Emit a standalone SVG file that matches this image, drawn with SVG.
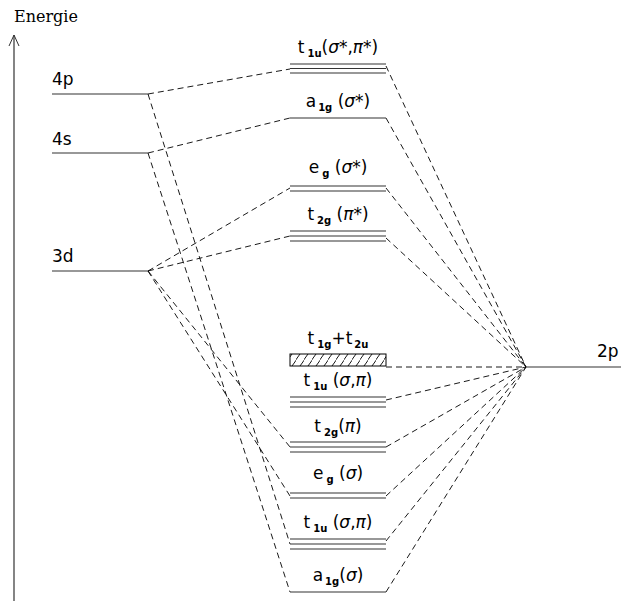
<svg xmlns="http://www.w3.org/2000/svg" width="621" height="601" viewBox="0 0 621 601">
<style>
.lv{stroke:#333;stroke-width:1.2;fill:none}
.dl{stroke:#000;stroke-width:0.9;stroke-dasharray:6,4;fill:none}
.t{font-family:"DejaVu Sans","Liberation Sans",sans-serif;font-size:17px;fill:#000}
.c{text-anchor:middle}
.s{font-size:10px;font-weight:bold}
.g{font-style:italic}
.e{font-family:"DejaVu Serif","Liberation Serif",serif;font-size:16px;fill:#000}
</style>
<defs>
<pattern id="hatch" width="8" height="12" patternUnits="userSpaceOnUse">
<line x1="-1" y1="13" x2="9" y2="-1" stroke="#000" stroke-width="0.9"/>
</pattern>
</defs>
<g id="axis">
<line x1="14" y1="601" x2="14" y2="35" stroke="#333" stroke-width="1.2"/>
<polyline points="9,46 14,35 19,46" fill="none" stroke="#333" stroke-width="1"/>
<text class="e" x="14" y="22">Energie</text>
</g>
<g id="connectors">
<line class="dl" x1="148" y1="94" x2="290" y2="69"/>
<line class="dl" x1="148" y1="94" x2="290" y2="544"/>
<line class="dl" x1="148" y1="153" x2="290" y2="118"/>
<line class="dl" x1="148" y1="153" x2="290" y2="592"/>
<line class="dl" x1="148" y1="271" x2="290" y2="188"/>
<line class="dl" x1="148" y1="271" x2="290" y2="236"/>
<line class="dl" x1="148" y1="271" x2="290" y2="447"/>
<line class="dl" x1="148" y1="271" x2="290" y2="496"/>
<line class="dl" x1="386" y1="66" x2="526" y2="367"/>
<line class="dl" x1="386" y1="118" x2="526" y2="367"/>
<line class="dl" x1="386" y1="188" x2="526" y2="367"/>
<line class="dl" x1="386" y1="238" x2="526" y2="367"/>
<line class="dl" x1="386" y1="367" x2="526" y2="367"/>
<line class="dl" x1="386" y1="400" x2="526" y2="367"/>
<line class="dl" x1="386" y1="447" x2="526" y2="367"/>
<line class="dl" x1="386" y1="496" x2="526" y2="367"/>
<line class="dl" x1="386" y1="541" x2="526" y2="367"/>
<line class="dl" x1="386" y1="592" x2="526" y2="367"/>
</g>
<g id="ao-4p">
<line class="lv" x1="52" y1="94" x2="148" y2="94"/>
<text class="t" x="52" y="85">4p</text>
</g>
<g id="ao-4s">
<line class="lv" x1="52" y1="153" x2="148" y2="153"/>
<text class="t" x="52" y="145">4s</text>
</g>
<g id="ao-3d">
<line class="lv" x1="52" y1="271" x2="148" y2="271"/>
<text class="t" x="52" y="262">3d</text>
</g>
<g id="ao-2p">
<line class="lv" x1="526" y1="367" x2="621" y2="367"/>
<text class="t" x="597" y="357">2p</text>
</g>
<g id="mo-t1u-star">
<line class="lv" x1="290" y1="64" x2="386" y2="64"/>
<line class="lv" x1="290" y1="68.5" x2="386" y2="68.5"/>
<line class="lv" x1="290" y1="73" x2="386" y2="73"/>
<text class="t c" x="338" y="53">t<tspan class="s" dx="3" dy="4">1u</tspan><tspan dy="-4">(</tspan><tspan class="g">σ</tspan>*,<tspan class="g">π</tspan>*)</text>
</g>
<g id="mo-a1g-star">
<line class="lv" x1="290" y1="118" x2="386" y2="118"/>
<text class="t c" x="338" y="107">a<tspan class="s" dx="2" dy="4">1g</tspan><tspan dy="-4"> (</tspan><tspan class="g">σ</tspan>*)</text>
</g>
<g id="mo-eg-star">
<line class="lv" x1="290" y1="186" x2="386" y2="186"/>
<line class="lv" x1="290" y1="191" x2="386" y2="191"/>
<text class="t c" x="338" y="173">e<tspan class="s" dx="3" dy="4">g</tspan><tspan dy="-4"> (</tspan><tspan class="g">σ</tspan>*)</text>
</g>
<g id="mo-t2g-star">
<line class="lv" x1="290" y1="231" x2="386" y2="231"/>
<line class="lv" x1="290" y1="236" x2="386" y2="236"/>
<line class="lv" x1="290" y1="241" x2="386" y2="241"/>
<text class="t c" x="338" y="220">t<tspan class="s" dx="3" dy="4">2g</tspan><tspan dy="-4"> (</tspan><tspan class="g">π</tspan>*)</text>
</g>
<g id="mo-t1g-t2u">
<rect x="290" y="354" width="96" height="12" fill="url(#hatch)" stroke="#000" stroke-width="1"/>
<text class="t c" x="338" y="344">t<tspan class="s" dx="3" dy="4">1g</tspan><tspan dy="-4">+t</tspan><tspan class="s" dx="2" dy="4">2u</tspan></text>
</g>
<g id="mo-t1u">
<line class="lv" x1="290" y1="397" x2="386" y2="397"/>
<line class="lv" x1="290" y1="402" x2="386" y2="402"/>
<line class="lv" x1="290" y1="407" x2="386" y2="407"/>
<text class="t c" x="338" y="386">t<tspan class="s" dx="3" dy="4">1u</tspan><tspan dy="-4"> (</tspan><tspan class="g">σ</tspan>,<tspan class="g">π</tspan>)</text>
</g>
<g id="mo-t2g">
<line class="lv" x1="290" y1="442" x2="386" y2="442"/>
<line class="lv" x1="290" y1="447" x2="386" y2="447"/>
<line class="lv" x1="290" y1="452" x2="386" y2="452"/>
<text class="t c" x="338" y="432">t<tspan class="s" dx="3" dy="4">2g</tspan><tspan dy="-4">(</tspan><tspan class="g">π</tspan>)</text>
</g>
<g id="mo-eg">
<line class="lv" x1="290" y1="493" x2="386" y2="493"/>
<line class="lv" x1="290" y1="498" x2="386" y2="498"/>
<text class="t c" x="338" y="479">e<tspan class="s" dx="3" dy="4">g</tspan><tspan dy="-4"> (</tspan><tspan class="g">σ</tspan>)</text>
</g>
<g id="mo-t1u-b">
<line class="lv" x1="290" y1="539" x2="386" y2="539"/>
<line class="lv" x1="290" y1="544" x2="386" y2="544"/>
<line class="lv" x1="290" y1="549" x2="386" y2="549"/>
<text class="t c" x="338" y="528">t<tspan class="s" dx="3" dy="4">1u</tspan><tspan dy="-4"> (</tspan><tspan class="g">σ</tspan>,<tspan class="g">π</tspan>)</text>
</g>
<g id="mo-a1g">
<line class="lv" x1="290" y1="592" x2="386" y2="592"/>
<text class="t c" x="338" y="581">a<tspan class="s" dx="2" dy="4">1g</tspan><tspan dy="-4">(</tspan><tspan class="g">σ</tspan>)</text>
</g>
</svg>
